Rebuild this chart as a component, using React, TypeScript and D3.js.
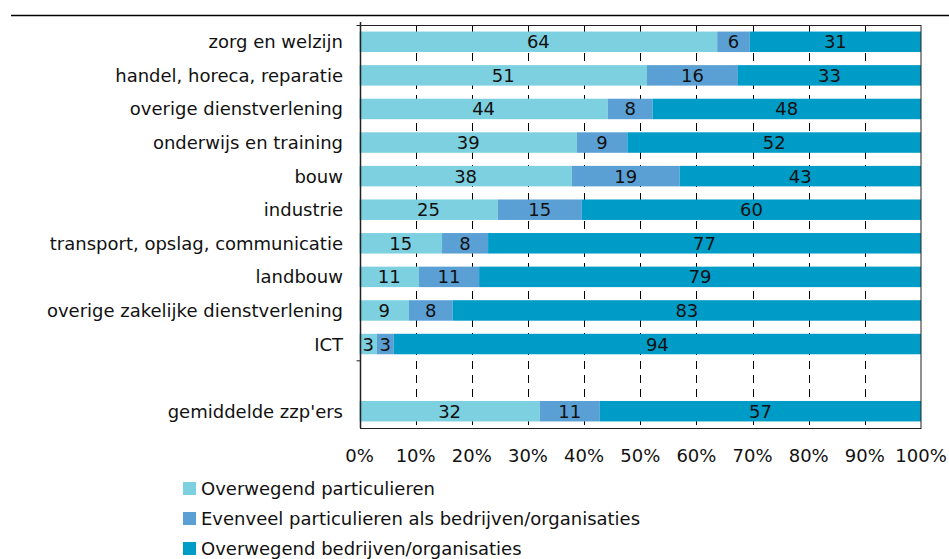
import React from "react";
import * as d3 from "d3";

const categories = [
  "zorg en welzijn",
  "handel, horeca, reparatie",
  "overige dienstverlening",
  "onderwijs en training",
  "bouw",
  "industrie",
  "transport, opslag, communicatie",
  "landbouw",
  "overige zakelijke dienstverlening",
  "ICT",
  "",
  "gemiddelde zzp'ers",
];
const particulieren = [63.7, 51.2, 44.2, 38.7, 37.8, 24.6, 14.7, 10.6, 8.8, 3.1, null, 32.1];
const evenveel = [5.8, 16.2, 8.0, 9.0, 19.2, 15.0, 8.2, 10.7, 7.8, 3.0, null, 10.7];
const bedrijven = [30.5, 32.6, 47.8, 52.3, 43.0, 60.4, 77.1, 78.7, 83.4, 93.9, null, 57.2];
const seriesNames = [
  "Overwegend particulieren",
  "Evenveel particulieren als bedrijven/organisaties",
  "Overwegend bedrijven/organisaties",
];
const colors = ["#7dd0e0", "#5ba0d5", "#009cc8"];
const ticks = [0, 10, 20, 30, 40, 50, 60, 70, 80, 90, 100];

export default function App() {
  const W = 949, H = 559;
  const left = 359.5, right = 921, top = 25, bottom = 428;
  const x = d3.scaleLinear().domain([0, 100]).range([left, right]).clamp(true);
  const y = d3.scaleBand<number>().domain(d3.range(categories.length)).range([top, bottom]).paddingInner(0.39).paddingOuter(0.195);
  const font = "'DejaVu Sans', Verdana, sans-serif";
  const fs = 18;
  const series = [particulieren, evenveel, bedrijven];

  const bars: React.ReactNode[] = [];
  categories.forEach((c, i) => {
    if (particulieren[i] == null) return;
    const vals = series.map((s) => s[i] as number);
    let acc = 0;
    vals.forEach((v, k) => {
      const x0 = x(acc);
      acc += v;
      const x1 = x(acc);
      bars.push(
        <g key={`${i}-${k}`}>
          <rect x={x0} y={y(i)} width={x1 - x0} height={y.bandwidth()} fill={colors[k]} />
          <text x={(x0 + x1) / 2} y={y(i)! + y.bandwidth() / 2} dy="0.36em" textAnchor="middle" fontSize={fs} fill="#111">{Math.round(v)}</text>
        </g>
      );
    });
  });

  const step = (bottom - top) / categories.length;
  const L = Math.round(left) - 0.5 + 1;

  return (
    <svg width={W} height={H} style={{ position: "absolute", left: 0, top: 0, fontFamily: font }}>
      <rect width={W} height={H} fill="#fff" />
      <line x1={11} x2={W} y1={15.5} y2={15.5} stroke="#000" strokeWidth={1.5} />
      {ticks.slice(1, -1).map((t) => (
        <line key={t} x1={Math.round(x(t)) + 0.5} x2={Math.round(x(t)) + 0.5} y1={top} y2={bottom} stroke="#000" strokeWidth={1} strokeDasharray="8,6" />
      ))}
      {bars}
      <rect x={L} y={top + 0.5} width={right - L} height={bottom - top} fill="none" stroke="#222" strokeWidth={1} />
      <line x1={L} x2={L} y1={top - 3} y2={bottom} stroke="#222" strokeWidth={1.5} />
      <line x1={L - 4} x2={L} y1={top + 0.5} y2={top + 0.5} stroke="#222" />
      <line x1={L - 4} x2={L} y1={top + step * 10} y2={top + step * 10} stroke="#222" />
      {categories.map((c, i) => (
        <text key={i} x={343} y={y(i)! + y.bandwidth() / 2} dy="0.36em" textAnchor="end" fontSize={fs} fill="#111">{c}</text>
      ))}
      {ticks.map((t) => (
        <text key={t} x={x(t)} y={462} textAnchor="middle" fontSize={fs} fill="#111">{t}%</text>
      ))}
      {seriesNames.map((n, k) => (
        <g key={n}>
          <rect x={183} y={482 + k * 30} width={13} height={13} fill={colors[k]} />
          <text x={201} y={489 + k * 30} dy="0.36em" fontSize={fs} fill="#111">{n}</text>
        </g>
      ))}
    </svg>
  );
}
